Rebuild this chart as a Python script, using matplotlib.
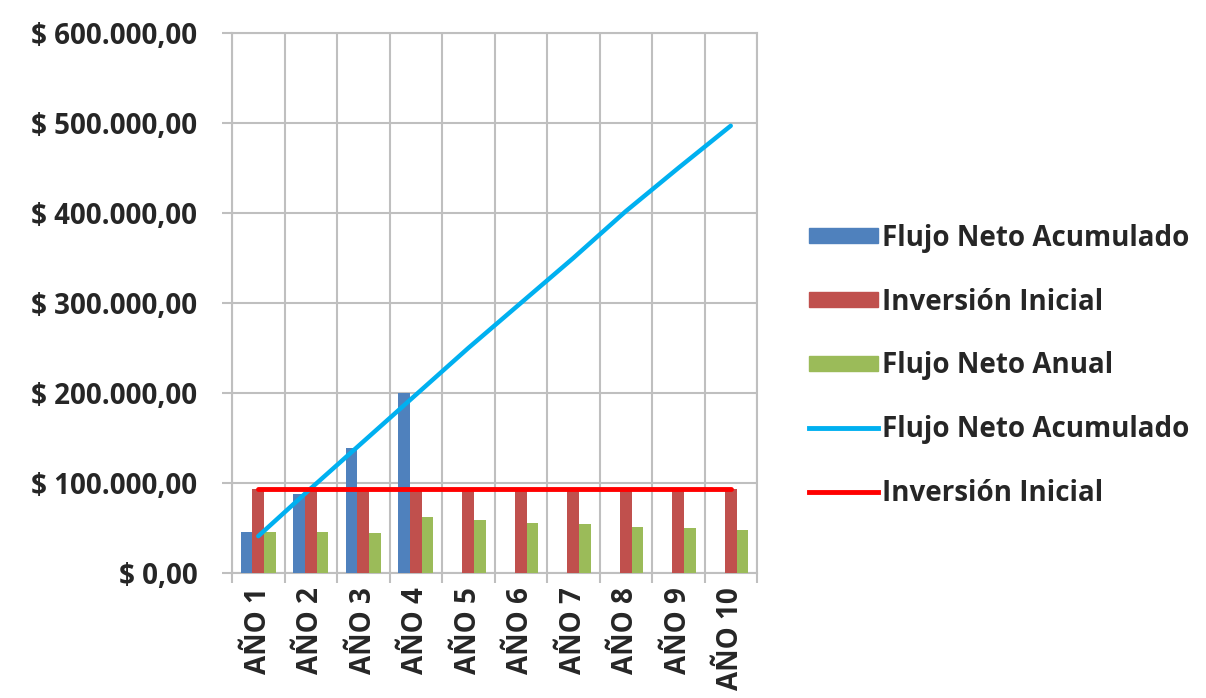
import numpy as np
import matplotlib
matplotlib.use("Agg")
import matplotlib.pyplot as plt
from matplotlib.patches import Patch
from matplotlib.lines import Line2D
from matplotlib.ticker import FuncFormatter

plt.rcParams['font.family'] = ['Open Sans', 'DejaVu Sans']
plt.rcParams['font.weight'] = 'bold'
plt.rcParams['text.color'] = '#262626'
plt.rcParams['xtick.labelcolor'] = '#262626'
plt.rcParams['ytick.labelcolor'] = '#262626'

years = ["AÑO 1", "AÑO 2", "AÑO 3", "AÑO 4", "AÑO 5",
         "AÑO 6", "AÑO 7", "AÑO 8", "AÑO 9", "AÑO 10"]
# bars
acumulado_bar = [46000, 88000, 139000, 200000, 0, 0, 0, 0, 0, 0]
inversion_bar = [93000, 93000, 93000, 93000, 93000, 93000, 93000, 93000, 93000, 93000]
anual_bar = [46000, 46000, 44000, 62000, 59000, 56000, 54000, 51000, 50000, 48000]
# lines
acumulado_line = [41000, 94000, 146000, 198000, 250000, 300000, 350000, 402000, 450000, 497000]
inversion_line = [93000] * 10

C_BLUE = "#4F81BD"
C_RED = "#C0504D"
C_GREEN = "#9BBB59"
C_CYAN = "#00B0F0"
C_REDLINE = "#FF0000"
GRID = "#BFBFBF"
FS = 20

fig = plt.figure(figsize=(12.06, 6.98), dpi=100)
ax = fig.add_axes([0.1924, 0.179, 0.4353, 0.7736])

x = np.arange(len(years))
w = 0.225
ax.bar(x - w, acumulado_bar, w, color=C_BLUE, zorder=3)
ax.bar(x, inversion_bar, w, color=C_RED, zorder=3)
ax.bar(x + w, anual_bar, w, color=C_GREEN, zorder=3)
ax.plot(x, acumulado_line, color=C_CYAN, lw=3.2, zorder=4, solid_capstyle='round')
ax.plot(x, inversion_line, color=C_REDLINE, lw=3.5, zorder=4, solid_capstyle='round')

ax.set_xlim(-0.5, len(years) - 0.5)
ax.set_ylim(0, 600000)
ax.set_yticks(np.arange(0, 600001, 100000))


def money(v, pos):
    s = "{:,.2f}".format(v).replace(",", "X").replace(".", ",").replace("X", ".")
    return "$ " + s


ax.yaxis.set_major_formatter(FuncFormatter(money))
ax.set_xticks(x)
ax.set_xticklabels(years, rotation=90)
ax.set_xticks(np.arange(-0.5, len(years)), minor=True)
ax.tick_params(axis='x', which='major', length=0, pad=10, labelsize=FS)
ax.tick_params(axis='x', which='minor', length=7, color=GRID, width=1.5)
ax.tick_params(axis='y', length=7, color=GRID, width=1.5, labelsize=FS, pad=18)

ax.grid(True, axis='y', which='major', color=GRID, lw=1.5, zorder=0)
ax.grid(True, axis='x', which='minor', color=GRID, lw=1.5, zorder=0)
for s in ax.spines.values():
    s.set_color(GRID)
    s.set_linewidth(1.5)

handles = [
    Patch(color=C_BLUE, label="Flujo Neto Acumulado"),
    Patch(color=C_RED, label="Inversión Inicial"),
    Patch(color=C_GREEN, label="Flujo Neto Anual"),
    Line2D([], [], color=C_CYAN, lw=3.5, label="Flujo Neto Acumulado"),
    Line2D([], [], color=C_REDLINE, lw=3.5, label="Inversión Inicial"),
]
fig.legend(handles=handles, loc='center left', bbox_to_anchor=(0.662, 0.476),
           frameon=False, fontsize=FS, handlelength=2.45, handleheight=0.45,
           handletextpad=0.15, labelspacing=1.25, borderaxespad=0)

fig.savefig("out.png", dpi=100)
